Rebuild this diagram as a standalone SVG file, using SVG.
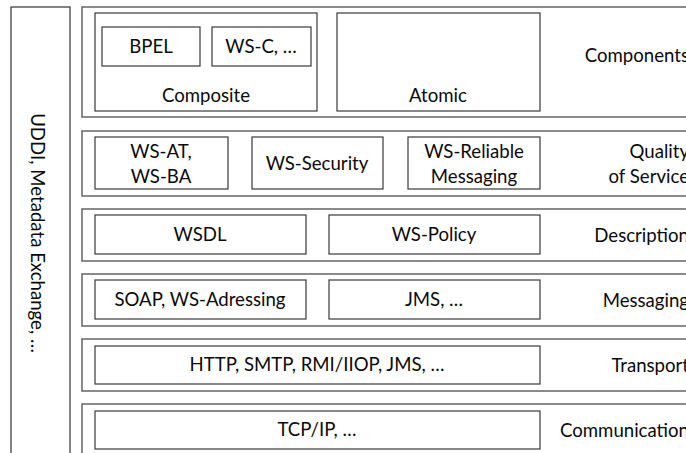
<svg xmlns="http://www.w3.org/2000/svg" width="686" height="453" viewBox="0 0 686 453">
  <style>
    .layer { fill: #ffffff; stroke: #6e6e6e; stroke-width: 1.6; }
    .box { fill: #ffffff; stroke: #3a3a3a; stroke-width: 1.2; }
    .side { fill: #ffffff; stroke: #333333; stroke-width: 1.2; }
    text { font-family: Lato, "Liberation Sans", sans-serif; font-size: 18.6px; fill: #0a0a0a; }
    .c { text-anchor: middle; }
    .r { text-anchor: end; }
  </style>
  <rect width="686" height="453" fill="#ffffff"/>

  <!-- vertical registry column -->
  <g id="registry">
    <rect class="side" x="11" y="7" width="59" height="460"/>
    <text class="c" transform="translate(31 233) rotate(90)">UDDI, Metadata Exchange, …</text>
  </g>

  <!-- Components layer -->
  <g id="layer-components">
    <rect class="layer" x="82" y="7" width="620" height="110"/>
    <text class="r" x="689" y="62">Components</text>
  </g>
  <g id="composite">
    <rect class="box" x="95" y="13" width="222" height="98"/>
    <text class="c" x="206" y="102">Composite</text>
  </g>
  <g id="bpel">
    <rect class="box" x="102" y="27" width="98" height="39"/>
    <text class="c" x="151" y="53">BPEL</text>
  </g>
  <g id="ws-c">
    <rect class="box" x="212" y="27" width="99" height="39"/>
    <text class="c" x="261" y="53">WS-C, …</text>
  </g>
  <g id="atomic">
    <rect class="box" x="337" y="13" width="203" height="98"/>
    <text class="c" x="438" y="102">Atomic</text>
  </g>

  <!-- Quality of Service layer -->
  <g id="layer-qos">
    <rect class="layer" x="82" y="131" width="620" height="65"/>
    <text class="r" x="689" y="158">Quality</text>
    <text class="r" x="689" y="183">of Service</text>
  </g>
  <g id="ws-at">
    <rect class="box" x="95" y="137" width="133" height="52"/>
    <text class="c" x="161" y="158">WS-AT,</text>
    <text class="c" x="161" y="183">WS-BA</text>
  </g>
  <g id="ws-security">
    <rect class="box" x="252" y="137" width="131" height="52"/>
    <text class="c" x="317" y="170">WS-Security</text>
  </g>
  <g id="ws-reliable">
    <rect class="box" x="408" y="137" width="132" height="52"/>
    <text class="c" x="474" y="158">WS-Reliable</text>
    <text class="c" x="474" y="183">Messaging</text>
  </g>

  <!-- Description layer -->
  <g id="layer-description">
    <rect class="layer" x="82" y="209" width="620" height="52"/>
    <text class="r" x="689" y="242">Description</text>
  </g>
  <g id="wsdl">
    <rect class="box" x="95" y="215" width="211" height="39"/>
    <text class="c" x="200" y="241">WSDL</text>
  </g>
  <g id="ws-policy">
    <rect class="box" x="329" y="215" width="211" height="39"/>
    <text class="c" x="434" y="241">WS-Policy</text>
  </g>

  <!-- Messaging layer -->
  <g id="layer-messaging">
    <rect class="layer" x="82" y="274" width="620" height="52"/>
    <text class="r" x="689" y="307">Messaging</text>
  </g>
  <g id="soap">
    <rect class="box" x="95" y="280" width="211" height="39"/>
    <text class="c" x="200" y="306">SOAP, WS-Adressing</text>
  </g>
  <g id="jms">
    <rect class="box" x="329" y="280" width="211" height="39"/>
    <text class="c" x="434" y="306">JMS, …</text>
  </g>

  <!-- Transport layer -->
  <g id="layer-transport">
    <rect class="layer" x="82" y="339" width="620" height="52"/>
    <text class="r" x="689" y="372">Transport</text>
  </g>
  <g id="transport-protocols">
    <rect class="box" x="95" y="346" width="445" height="38"/>
    <text class="c" x="317" y="371">HTTP, SMTP, RMI/IIOP, JMS, …</text>
  </g>

  <!-- Communication layer -->
  <g id="layer-communication">
    <rect class="layer" x="82" y="404" width="620" height="60"/>
    <text class="r" x="689" y="437">Communication</text>
  </g>
  <g id="tcp-ip">
    <rect class="box" x="95" y="411" width="445" height="38"/>
    <text class="c" x="317" y="436">TCP/IP, …</text>
  </g>

  <g id="connectors"/>
</svg>
